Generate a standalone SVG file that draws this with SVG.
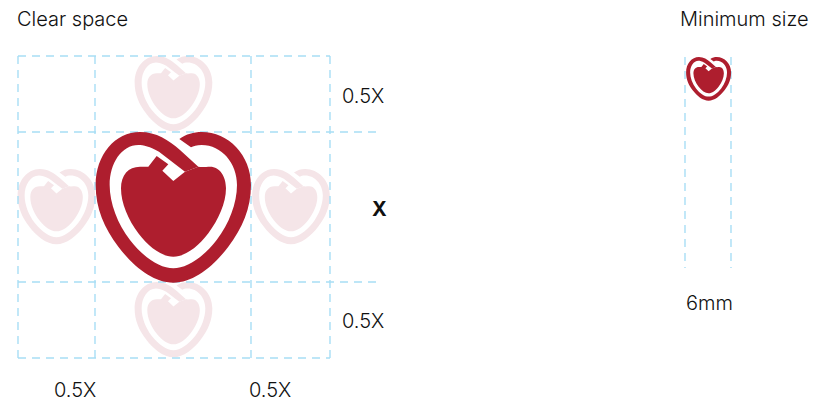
<svg xmlns="http://www.w3.org/2000/svg" width="814" height="401" viewBox="0 0 814 401">
<style>
text{font-family:Inter,"Liberation Sans",sans-serif;font-size:20px;font-weight:300;fill:#111}
.g{stroke:#a8def5;stroke-width:1.4;stroke-dasharray:8 6;fill:none}
</style>
<defs>
<g id="logo">
<path d="M283,57C305,42 325,36 350,36C430,36 498,105 498,195C498,265 472,325 430,380C385,440 325,488 265,488C205,488 145,440 100,380C58,325 32,265 32,195C32,105 90,36 165,36C215,36 250,60 285,90L340,140L300,155L222,95C195,80 175,75 160,75C110,75 74,130 74,195C74,250 98,312 135,360C175,412 225,445 265,445C305,445 355,412 395,360C432,312 456,250 456,195C456,130 410,75 350,75C335,75 325,78 318,82Z"/>
<path d="M340,140C350,142 365,140 375,140C405,140 423,170 423,205C423,250 400,300 370,340C338,382 300,410 265,410C230,410 192,382 160,340C130,300 108,250 108,205C108,165 130,140 165,140L190,140L215,108L250,133L232,152L265,183L300,155Z"/>
</g>
</defs>
<rect width="814" height="401" fill="#fff"/>
<g id="pale-logos" fill="#f5e5e8">
<use href="#logo" transform="translate(129.3,50) scale(.1667)"/>
<use href="#logo" transform="translate(12.3,163) scale(.1667)"/>
<use href="#logo" transform="translate(246.800,163) scale(.1667)"/>
<use href="#logo" transform="translate(129.3,276) scale(.1667)"/>
</g>
<g id="connectors">
<path class="g" d="M18,56H330M18,132H382M18,282H382M18,358H330M18,56V358M95,56V358M251,56V358M330,56V358"/>
<path class="g" d="M685,57V268M731,57V268"/>
</g>
<g id="main-logo" fill="#ae1e2e"><use href="#logo" transform="translate(85,120) scale(.3333)"/></g>
<g id="small-logo" fill="#ae1e2e"><use href="#logo" transform="translate(683,53.600) scale(.0966)"/></g>
<g id="labels">
<text x="17" y="26">Clear space</text>
<text x="680" y="26">Minimum size</text>
<text x="342" y="103">0.5X</text>
<text x="372" y="216" style="font-weight:700">X</text>
<text x="342" y="328">0.5X</text>
<text x="686" y="310">6mm</text>
<text x="54" y="397">0.5X</text>
<text x="249" y="397">0.5X</text>
</g>
</svg>
